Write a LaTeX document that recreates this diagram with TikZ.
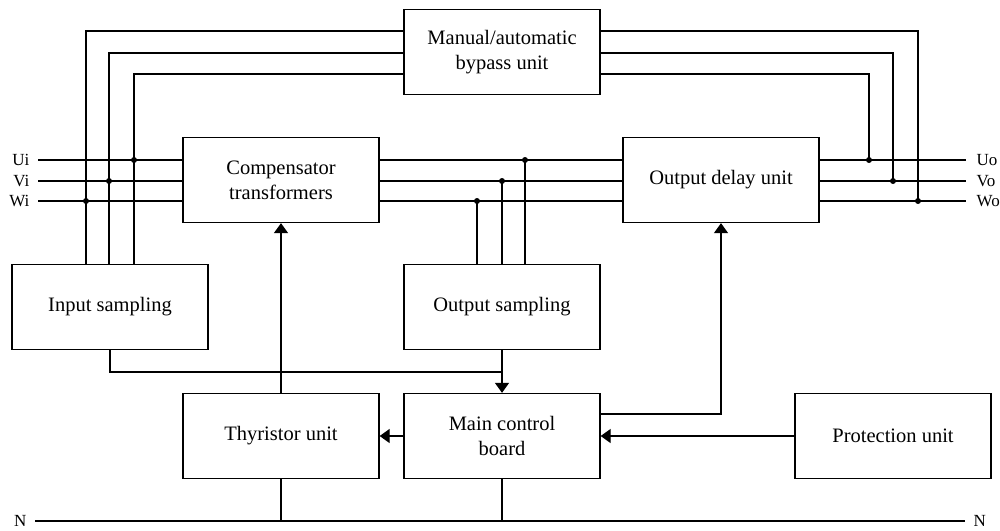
\documentclass[tikz,border=0pt]{standalone}
\usepackage{fontspec}
\setmainfont{Liberation Serif}
\usepackage{tikz}
\usetikzlibrary{arrows.meta}

\begin{document}
\begin{tikzpicture}[x=1pt,y=-1pt,line width=1.3pt]
  \tikzstyle{BoxStyle}=[draw,rectangle,minimum width=196pt,minimum height=85pt,
    align=center,font=\fontsize{20.5}{25}\selectfont]
  \tikzstyle{TermStyle}=[inner sep=0pt,font=\fontsize{17}{17}\selectfont]
  \tikzstyle{ArrowStyle}=[-{Triangle[length=10pt,width=14pt]}]
  \useasboundingbox (0,0) rectangle (1000,530);
  % boxes
  \node[BoxStyle] (bypass) at (502,52) {Manual/automatic\\bypass unit};
  \node[BoxStyle] (comp) at (281,180) {Compensator\\transformers};
  \node[BoxStyle] (delay) at (721,180) {Output delay unit};
  \node[BoxStyle] (insamp) at (110,307) {Input sampling};
  \node[BoxStyle] (outsamp) at (502,307) {Output sampling};
  \node[BoxStyle] (thyr) at (281,436) {Thyristor unit};
  \node[BoxStyle] (main) at (502,436) {Main control\\board};
  \node[BoxStyle] (prot) at (893,436) {Protection unit};
  % terminals and junctions
  \coordinate (Ui) at (38,160);
  \coordinate (Vi) at (38,181);
  \coordinate (Wi) at (38,201);
  \coordinate (Uo) at (966,160);
  \coordinate (Vo) at (966,181);
  \coordinate (Wo) at (966,201);
  \coordinate (Nl) at (35,521);
  \coordinate (Nr) at (965,521);
  \coordinate (busA) at (0,31);
  \coordinate (busB) at (0,53);
  \coordinate (busC) at (0,74);
  \coordinate (jUi) at (134,160);
  \coordinate (jVi) at (109,181);
  \coordinate (jWi) at (86,201);
  \coordinate (jUm) at (525,160);
  \coordinate (jVm) at (502,181);
  \coordinate (jWm) at (477,201);
  \coordinate (jUo) at (869,160);
  \coordinate (jVo) at (893,181);
  \coordinate (jWo) at (918,201);
  \coordinate (merge) at (502,372);
  \node[TermStyle,anchor=east,xshift=-8pt] (lUi) at (Ui) {Ui};
  \node[TermStyle,anchor=east,xshift=-8pt] (lVi) at (Vi) {Vi};
  \node[TermStyle,anchor=east,xshift=-8pt] (lWi) at (Wi) {Wi};
  \node[TermStyle,anchor=west,xshift=10pt] (lUo) at (Uo) {Uo};
  \node[TermStyle,anchor=west,xshift=10pt] (lVo) at (Vo) {Vo};
  \node[TermStyle,anchor=west,xshift=10pt] (lWo) at (Wo) {Wo};
  \node[TermStyle,anchor=east,xshift=-8pt] (lNl) at (Nl) {N};
  \node[TermStyle,anchor=west,xshift=8pt] (lNr) at (Nr) {N};
  % three phase lines
  \foreach \p/\q in {Ui/Uo,Vi/Vo,Wi/Wo}{
    \draw (\p) -- (comp.west |- \p);
    \draw (comp.east |- \p) -- (delay.west |- \p);
    \draw (delay.east |- \q) -- (\q);
  }
  % bypass bus
  \draw (insamp.north -| jWi) |- (bypass.west |- busA);
  \draw (insamp.north -| jVi) |- (bypass.west |- busB);
  \draw (insamp.north -| jUi) |- (bypass.west |- busC);
  \draw (bypass.east |- busA) -| (jWo);
  \draw (bypass.east |- busB) -| (jVo);
  \draw (bypass.east |- busC) -| (jUo);
  % output sampling taps
  \draw (outsamp.north -| jWm) -- (jWm);
  \draw (outsamp.north -| jVm) -- (jVm);
  \draw (outsamp.north -| jUm) -- (jUm);
  \foreach \j in {jUi,jVi,jWi,jUm,jVm,jWm,jUo,jVo,jWo}
    \fill (\j) circle (3pt);
  % control
  \draw[ArrowStyle] (thyr.north) -- (comp.south);
  \draw (insamp.south) |- (merge);
  \draw[ArrowStyle] (outsamp.south) -- (main.north);
  \draw[ArrowStyle] (main.west) -- (thyr.east);
  \draw[ArrowStyle] (prot.west) -- (main.east);
  \draw[ArrowStyle] ([yshift=22pt]main.east) -| (delay.south);
  % neutral
  \draw (Nl) -- (Nr);
  \draw (thyr.south) -- (thyr.south |- Nl);
  \draw (main.south) -- (main.south |- Nl);
\end{tikzpicture}
\end{document}
